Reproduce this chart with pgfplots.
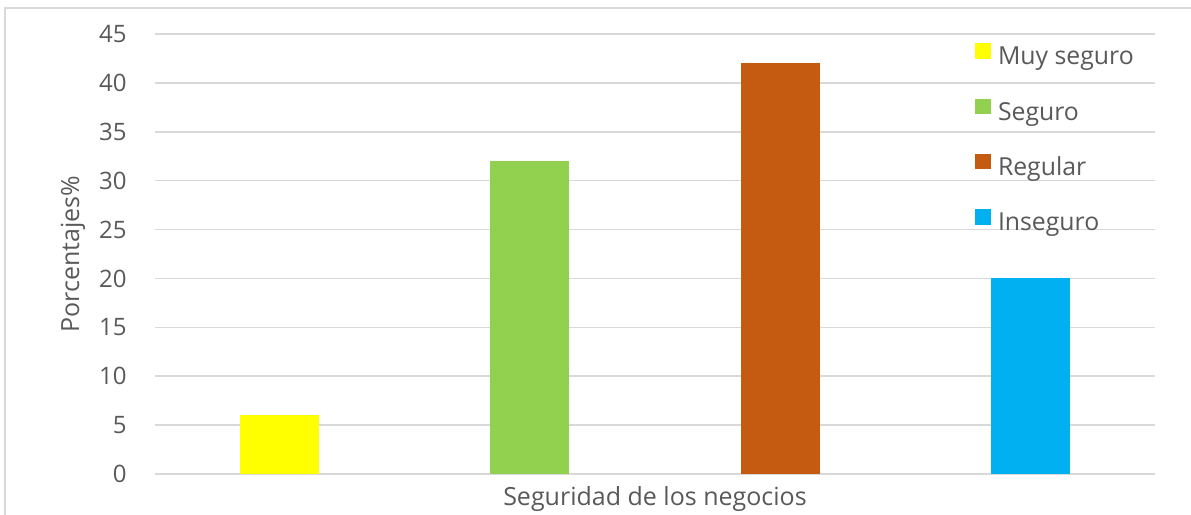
\documentclass[border=0pt]{standalone}
\usepackage{fontspec}
\setmainfont{Open Sans}
\usepackage{pgfplots}
\pgfplotsset{compat=1.18}
\definecolor{txtgray}{HTML}{595959}
\definecolor{gridgray}{HTML}{D9D9D9}
\definecolor{cYellow}{HTML}{FFFF00}
\definecolor{cGreen}{HTML}{92D050}
\definecolor{cOrange}{HTML}{C55A11}
\definecolor{cBlue}{HTML}{00B0F0}
\begin{document}
\begin{tikzpicture}
\begin{axis}[
  at={(0,0)}, anchor=south west,
  scale only axis,
  width=500pt, height=220pt,
  xmin=-0.5, xmax=3.5,
  ymin=0, ymax=45,
  ytick={0,5,...,45},
  xtick=\empty,
  ymajorgrids,
  grid style={gridgray, line width=0.8pt},
  axis line style={draw=none},
  major tick length=0pt,
  /pgf/number format/assume math mode=true,
  tick label style={font=\fontsize{12}{14}\selectfont, text=txtgray},
  yticklabel style={inner sep=0pt, xshift=-14pt},
  ylabel={Porcentajes\%},
  xlabel={Seguridad de los negocios},
  every axis y label/.style={at={([xshift=-41pt]axis description cs:0,0.5)}, rotate=90, anchor=center, inner sep=0pt, font=\fontsize{12.5}{14}\selectfont, text=txtgray},
  every axis x label/.style={at={([yshift=-15.5pt]axis description cs:0.5,0)}, anchor=base, inner sep=0pt, font=\fontsize{12.5}{14}\selectfont, text=txtgray},
  ybar, bar width=39.5pt, bar shift=0pt,
  legend image code/.code={\fill[#1, draw=none] (0pt,0pt) rectangle (8pt,7.7pt);},
  legend cell align=left,
  legend style={at={(rel axis cs:0.82,0.979)}, anchor=north west, draw=none, fill=none,
    inner sep=0pt, outer sep=0pt, row sep=14.5pt, column sep=3.5pt,
    font=\fontsize{12.4}{14}\selectfont, text=txtgray,
    nodes={inner sep=0pt, outer sep=0pt, text height=8.5pt, text depth=2.5pt}},
]
\addplot[fill=cYellow, draw=none] coordinates {(0,6)};
\addlegendentry{Muy seguro}
\addplot[fill=cGreen, draw=none] coordinates {(1,32)};
\addlegendentry{Seguro}
\addplot[fill=cOrange, draw=none] coordinates {(2,42)};
\addlegendentry{Regular}
\addplot[fill=cBlue, draw=none] coordinates {(3,20)};
\addlegendentry{Inseguro}
\end{axis}
\draw[gridgray, line width=0.8pt] (-75pt,-21pt) -- (-75pt,233pt) -- (519pt,233pt);
\pgfresetboundingbox
\useasboundingbox (-77.5pt,-20.5pt) rectangle (518pt,237pt);
\end{tikzpicture}
\end{document}
